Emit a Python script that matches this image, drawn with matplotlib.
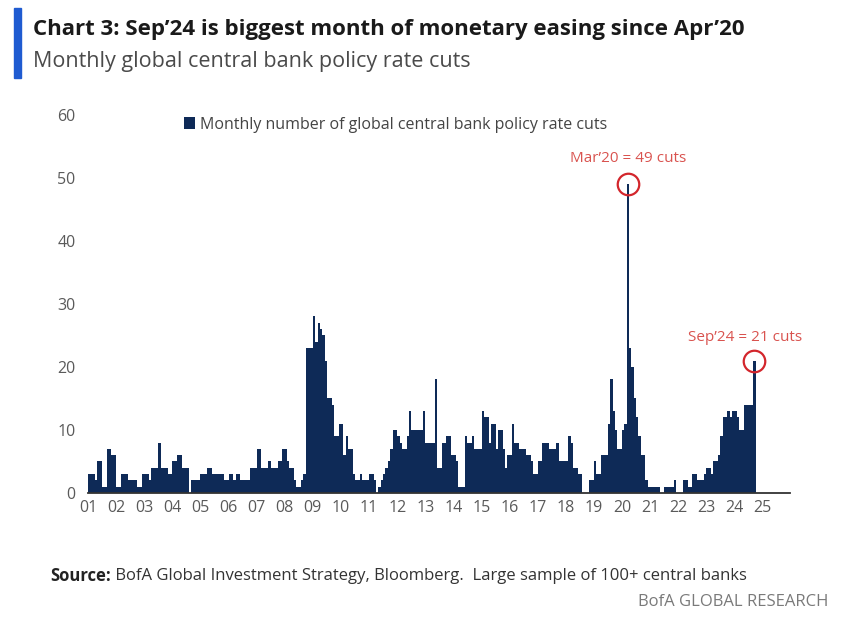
import numpy as np
import matplotlib.pyplot as plt

plt.rcParams['font.family'] = ['Open Sans', 'DejaVu Sans']

# monthly number of global central bank policy rate cuts, Jan 2001 - Sep 2024
cuts_01 = [3, 3, 3, 2, 5, 5, 1, 1, 7, 7, 6, 6]
cuts_02 = [1, 1, 3, 3, 3, 2, 2, 2, 2, 1, 1, 3]
cuts_03 = [3, 3, 2, 4, 4, 4, 8, 4, 4, 4, 3, 3]
cuts_04 = [5, 5, 6, 6, 4, 4, 4, 0, 2, 2, 2, 2]
cuts_05 = [3, 3, 3, 4, 4, 3, 3, 3, 3, 3, 2, 2]
cuts_06 = [3, 3, 2, 3, 3, 2, 2, 2, 2, 4, 4, 4]
cuts_07 = [7, 7, 4, 4, 4, 5, 4, 4, 4, 5, 5, 7]
cuts_08 = [7, 5, 4, 4, 2, 1, 1, 2, 3, 23, 23, 23]
cuts_09 = [28, 24, 27, 26, 25, 21, 15, 15, 14, 9, 9, 11]
cuts_10 = [11, 6, 9, 7, 7, 3, 2, 2, 3, 2, 2, 2]
cuts_11 = [3, 3, 2, 0, 1, 2, 3, 4, 5, 7, 10, 10]
cuts_12 = [9, 8, 7, 7, 9, 13, 10, 10, 10, 10, 10, 13]
cuts_13 = [8, 8, 8, 8, 18, 4, 4, 8, 8, 9, 9, 6]
cuts_14 = [6, 5, 1, 1, 1, 9, 8, 8, 9, 7, 7, 7]
cuts_15 = [13, 12, 12, 8, 11, 11, 7, 10, 10, 7, 4, 6]
cuts_16 = [6, 11, 8, 8, 7, 7, 7, 6, 6, 5, 3, 3]
cuts_17 = [5, 5, 8, 8, 8, 7, 7, 7, 8, 5, 5, 5]
cuts_18 = [5, 9, 8, 4, 4, 3, 3, 0, 0, 0, 2, 2]
cuts_19 = [5, 3, 3, 6, 6, 6, 11, 18, 13, 10, 7, 7]
cuts_20 = [10, 11, 49, 23, 20, 15, 12, 9, 6, 6, 2, 1]
cuts_21 = [1, 1, 1, 1, 0, 0, 1, 1, 1, 1, 2, 0]
cuts_22 = [0, 0, 2, 2, 1, 1, 3, 3, 2, 2, 2, 3]
cuts_23 = [4, 4, 3, 5, 5, 6, 9, 12, 12, 13, 12, 13]
cuts_24 = [13, 12, 10, 10, 14, 14, 14, 14, 21]

year_ticks = list(range(2001, 2026))
year_labels = ['01', '02', '03', '04', '05', '06', '07', '08', '09', '10', '11', '12',
               '13', '14', '15', '16', '17', '18', '19', '20', '21', '22', '23', '24', '25']

# highlighted months (index from Jan 2001) and their labels
peak_idx = [230, 284]
peak_text = ['Mar\u201920 = 49 cuts', 'Sep\u201924 = 21 cuts']

cuts = np.concatenate([cuts_01, cuts_02, cuts_03, cuts_04, cuts_05, cuts_06, cuts_07,
                       cuts_08, cuts_09, cuts_10, cuts_11, cuts_12, cuts_13, cuts_14,
                       cuts_15, cuts_16, cuts_17, cuts_18, cuts_19, cuts_20, cuts_21,
                       cuts_22, cuts_23, cuts_24])
xpos = 2001 + np.arange(len(cuts)) / 12

navy = '#0e2a57'
red = '#d3262c'

fig = plt.figure(figsize=(8.48, 6.2), dpi=100)
ax = fig.add_axes([88 / 848, 127 / 620, 702 / 848, 391 / 620])

ax.bar(xpos, cuts, width=1 / 12, align='edge', color=navy, linewidth=0,
       label='Monthly number of global central bank policy rate cuts')

ax.set_xlim(2001, 2001 + 299.7 / 12)
ax.set_ylim(0, 62)
ax.set_yticks(range(0, 61, 10))
ax.set_xticks(year_ticks)
ax.set_xticklabels(year_labels)
ax.tick_params(axis='both', length=0, labelsize=11.5, labelcolor='#5a5a5a')
ax.tick_params(axis='y', pad=9)
ax.tick_params(axis='x', pad=5)
for s in ['top', 'right', 'left']:
    ax.spines[s].set_visible(False)
ax.spines['bottom'].set_color('#333333')
ax.spines['bottom'].set_linewidth(1.3)

# circles + labels on the two highlighted months
offsets = [(0, 13), (-7, 11)]
for i, txt, off in zip(peak_idx, peak_text, offsets):
    xc = xpos[i] + 1 / 24
    ax.plot(xc, cuts[i], 'o', ms=15.5, mfc='none', mec=red, mew=1.6)
    ax.annotate(txt, (xc, cuts[i]), xytext=off, textcoords='offset points',
                ha='center', va='bottom', color='#d9534f', fontsize=11)

leg = ax.legend(loc='center left', bbox_to_anchor=(0.137, 0.942), frameon=False,
                handlelength=0.7, handleheight=0.7, handletextpad=0.3,
                borderpad=0, borderaxespad=0, fontsize=11.5)
for t in leg.get_texts():
    t.set_color('#444444')

# header
fig.patches.append(plt.Rectangle((14 / 848, 1 - 78 / 620), 7 / 848, 70 / 620,
                                 transform=fig.transFigure, color='#1f5bd1'))
fig.text(33 / 848, 1 - 30 / 620,
         'Chart 3: Sep\u201924 is biggest month of monetary easing since Apr\u201920',
         fontsize=16, fontweight='bold', color='#1a1a1a', va='center')
fig.text(33 / 848, 1 - 62 / 620, 'Monthly global central bank policy rate cuts',
         fontsize=15.5, color='#4a4a4a', va='center')

# footer
src = fig.text(50 / 848, 1 - 576 / 620, 'Source:', fontsize=12, fontweight='bold',
               color='#222222', va='center')
fig.canvas.draw()
bb = src.get_window_extent()
fig.text(bb.x1 / fig.bbox.width, 1 - 576 / 620,
         ' BofA Global Investment Strategy, Bloomberg.  Large sample of 100+ central banks',
         fontsize=12, color='#333333', va='center')
fig.text(828 / 848, 1 - 602 / 620, 'BofA GLOBAL RESEARCH', fontsize=12,
         color='#7a7a7a', ha='right', va='center')

fig.savefig('out.png', dpi=100)
